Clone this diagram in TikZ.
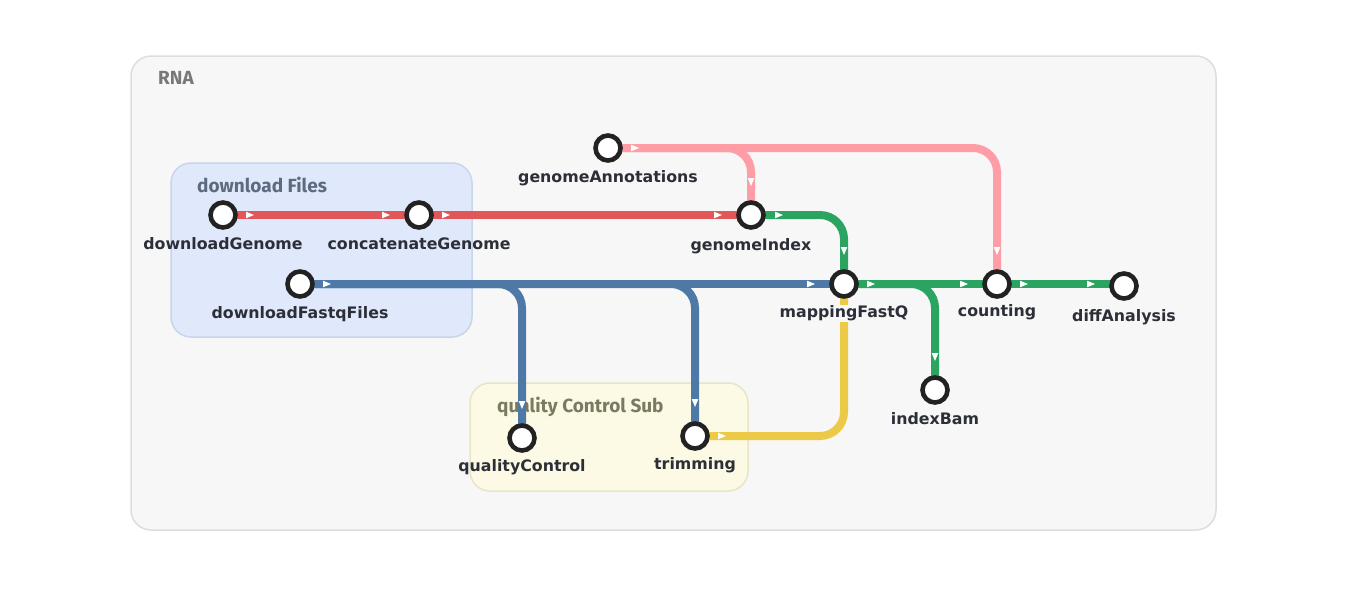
\documentclass[tikz,border=0pt]{standalone}
\usepackage{fontspec}
\setmainfont{DejaVu Sans}
\newfontfamily\titlefont{Fira Sans}
\usetikzlibrary{calc}
\pgfdeclarelayer{boxes}
\pgfdeclarelayer{lines}
\pgfsetlayers{boxes,lines,main}
\definecolor{rnabg}{HTML}{F7F7F7}
\definecolor{rnaedge}{HTML}{DDDDDD}
\definecolor{dlbg}{HTML}{DFE9FB}
\definecolor{dledge}{HTML}{C8D5EA}
\definecolor{qcbg}{HTML}{FCFAE4}
\definecolor{qcedge}{HTML}{E7E5C8}
\definecolor{rnatxt}{HTML}{787878}
\definecolor{dltxt}{HTML}{5E6A80}
\definecolor{qctxt}{HTML}{7A7A60}
\definecolor{lbltxt}{HTML}{2D2F38}
\definecolor{ring}{HTML}{222222}
\definecolor{lred}{HTML}{E15759}
\definecolor{lpink}{HTML}{FF9DA7}
\definecolor{lgreen}{HTML}{2BA461}
\definecolor{lblue}{HTML}{4E79A7}
\definecolor{lyellow}{HTML}{EDC948}
\tikzset{
  stn/.style={circle, draw=ring, fill=white, line width=4.6pt, minimum size=25pt, inner sep=0pt},
  lbl/.style={font=\fontsize{15.8}{18}\selectfont\bfseries, text=lbltxt, text height=11.5pt, text depth=3.5pt, inner sep=1pt},
  ttl/.style={font=\titlefont\fontsize{19}{22}\selectfont\bfseries, inner sep=0pt, anchor=base west},
  metro/.style={line width=8pt, rounded corners=24pt},
  rtip/.pic={\fill[white] (-4,-3.3) -- (4,0) -- (-4,3.3) -- cycle;},
  dtip/.pic={\fill[white] (-3.3,-4) -- (3.3,-4) -- (0,4) -- cycle;}
}
\begin{document}
\begin{tikzpicture}[x=1pt,y=-1pt]
\useasboundingbox (0,0) rectangle (1369,597);
% stations
\node[stn] (dg)  at (223,215) {};
\node[stn] (cg)  at (419,215) {};
\node[stn] (dfq) at (300,284) {};
\node[stn] (ga)  at (608,148) {};
\node[stn] (gi)  at (751,215) {};
\node[stn] (mf)  at (844,284) {};
\node[stn] (cnt) at (997,284) {};
\node[stn] (da)  at (1124,286) {};
\node[stn] (ib)  at (935,390) {};
\node[stn] (qc)  at (522,438) {};
\node[stn] (tr)  at (695,436) {};
% labels
\node[lbl] (dgl)  at ($(dg.center)+(0,30)$) {downloadGenome};
\node[lbl] (cgl)  at ($(cg.center)+(0,30)$) {concatenateGenome};
\node[lbl] (dfql) at ($(dfq.center)+(0,30)$) {downloadFastqFiles};
\node[lbl] (gal)  at ($(ga.center)+(0,30)$) {genomeAnnotations};
\node[lbl] (gil)  at ($(gi.center)+(0,31)$) {genomeIndex};
\node[lbl, fill=rnabg] (mfl) at ($(mf.center)+(0,29)$) {mappingFastQ};
\node[lbl] (cntl) at ($(cnt.center)+(0,28)$) {counting};
\node[lbl] (dal)  at ($(da.center)+(0,31)$) {diffAnalysis};
\node[lbl] (ibl)  at ($(ib.center)+(0,30)$) {indexBam};
\node[lbl] (qcl)  at ($(qc.center)+(0,29)$) {qualityControl};
\node[lbl] (trl)  at ($(tr.center)+(0,29)$) {trimming};
% group boxes
\begin{pgfonlayer}{boxes}
\draw[fill=rnabg, draw=rnaedge, line width=1.5pt, rounded corners=20pt] (131,56) rectangle (1216,530);
\draw[fill=dlbg, draw=dledge, line width=1.5pt, rounded corners=20pt] (171,163) rectangle (472,337);
\draw[fill=qcbg, draw=qcedge, line width=1.5pt, rounded corners=20pt] (470,383) rectangle (748,491);
\node[ttl, text=rnatxt] (trna) at (158,84) {RNA};
\node[ttl, text=dltxt] (tdl) at (197,192) {download Files};
\node[ttl, text=qctxt] (tqc) at (497,412) {quality Control Sub};
\end{pgfonlayer}
% lines
\begin{pgfonlayer}{lines}
\draw[metro, lred] (dg.center) -- (cg.center) -- (gi.center);
\draw[metro, lpink] (ga.center) -- (ga.center -| gi.center) -- (gi.center);
\draw[metro, lpink] (ga.center) -- (ga.center -| cnt.center) -- (cnt.center);
\draw[metro, lgreen] (gi.center) -- (gi.center -| mf.center) -- (mf.center);
\draw[metro, lgreen] (mf.center) -- (cnt.center) -- (cnt.center -| da.center);
\draw[metro, lgreen] (mf.center) -- (mf.center -| ib.center) -- (ib.center);
\draw[metro, lblue] (dfq.center) -- (mf.center);
\draw[metro, lblue] (dfq.center) -- (dfq.center -| qc.center) -- (qc.center);
\draw[metro, lblue] (dfq.center) -- (dfq.center -| tr.center) -- (tr.center);
\draw[metro, lyellow] (tr.center) -- (tr.center -| mf.center) -- (mf.center);
% arrow marks
\pic at ($(dg.center)+(27,0)$) {rtip};
\pic at ($(cg.center)+(-33,0)$) {rtip};
\pic at ($(cg.center)+(27,0)$) {rtip};
\pic at ($(gi.center)+(-33,0)$) {rtip};
\pic at ($(ga.center)+(27,0)$) {rtip};
\pic at ($(gi.center)+(0,-33)$) {dtip};
\pic at ($(cnt.center)+(0,-33)$) {dtip};
\pic at ($(gi.center)+(28,0)$) {rtip};
\pic at ($(mf.center)+(0,-33)$) {dtip};
\pic at ($(mf.center)+(27,0)$) {rtip};
\pic at ($(cnt.center)+(-33,0)$) {rtip};
\pic at ($(cnt.center)+(27,0)$) {rtip};
\pic at ($(da.center|-cnt.center)+(-33,0)$) {rtip};
\pic at ($(ib.center)+(0,-33)$) {dtip};
\pic at ($(dfq.center)+(27,0)$) {rtip};
\pic at ($(mf.center)+(-33,0)$) {rtip};
\pic at ($(qc.center)+(0,-33)$) {dtip};
\pic at ($(tr.center)+(0,-33)$) {dtip};
\pic at ($(tr.center)+(27,0)$) {rtip};
\end{pgfonlayer}
\end{tikzpicture}
\end{document}
